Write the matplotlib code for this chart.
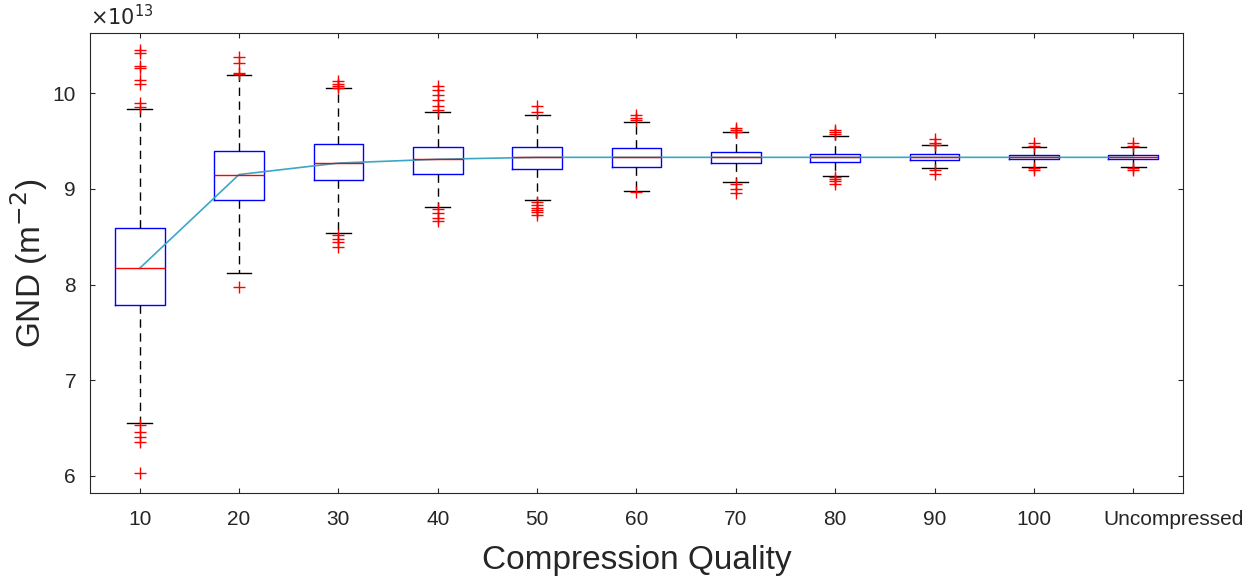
import matplotlib.pyplot as plt
import matplotlib.transforms as mtrans

plt.rcParams["font.family"] = ["Liberation Sans", "DejaVu Sans"]

labels = ["10", "20", "30", "40", "50", "60", "70", "80", "90", "100", "Uncompressed"]
medians = [8.17, 9.15, 9.27, 9.31, 9.33, 9.33, 9.33, 9.33, 9.33, 9.33, 9.33]
q1 = [7.79, 8.88, 9.09, 9.16, 9.21, 9.23, 9.27, 9.28, 9.30, 9.31, 9.31]
q3 = [8.59, 9.40, 9.47, 9.44, 9.44, 9.43, 9.39, 9.37, 9.36, 9.355, 9.355]
whislo = [6.55, 8.12, 8.54, 8.81, 8.88, 8.98, 9.07, 9.13, 9.22, 9.23, 9.23]
whishi = [9.84, 10.19, 10.05, 9.80, 9.77, 9.70, 9.59, 9.55, 9.46, 9.44, 9.44]
fliers = [
    [10.45, 10.42, 10.28, 10.26, 10.14, 10.10, 9.90, 9.86, 6.53, 6.46, 6.41, 6.35, 6.03],
    [10.38, 10.32, 10.21, 10.20, 7.97],
    [10.13, 10.10, 10.08, 10.06, 8.52, 8.48, 8.44, 8.39],
    [10.08, 10.03, 9.98, 9.93, 9.87, 9.82, 8.79, 8.75, 8.70, 8.66],
    [9.87, 9.80, 8.86, 8.83, 8.80, 8.78, 8.76, 8.73],
    [9.77, 9.74, 9.72, 8.97],
    [9.64, 9.62, 9.60, 9.05, 9.00, 8.96],
    [9.62, 9.59, 9.57, 9.12, 9.10, 9.08, 9.05],
    [9.52, 9.48, 9.46, 9.20, 9.16],
    [9.48, 9.45, 9.22, 9.20],
    [9.48, 9.45, 9.22, 9.20],
]

stats = []
for i in range(len(labels)):
    stats.append({"med": medians[i], "q1": q1[i], "q3": q3[i],
                  "whislo": whislo[i], "whishi": whishi[i], "fliers": fliers[i]})

fig = plt.figure(figsize=(12.5, 5.79), dpi=100)
ax = fig.add_axes([0.072, 0.1485, 0.8744, 0.7945])
pos = list(range(1, len(labels) + 1))

ax.bxp(stats, positions=pos, widths=0.5,
       boxprops=dict(color="blue", linewidth=1),
       medianprops=dict(color="red", linewidth=1),
       whiskerprops=dict(color="black", linestyle=(0, (6, 4)), linewidth=1),
       capprops=dict(color="black", linewidth=1),
       flierprops=dict(marker="+", markeredgecolor="red", markersize=9, linestyle="none"),
       capwidths=0.25)

ax.plot(pos, medians, color="#3aa8c4", linewidth=1.2)

ax.set_xlim(0.5, 11.5)
ax.set_ylim(5.82, 10.63)
ax.set_xticks(pos)
ax.set_xticklabels(labels)
ax.set_yticks([6, 7, 8, 9, 10])
ax.tick_params(direction="in", top=True, right=True, labelsize=15, colors="#262626")
ax.tick_params(axis="x", pad=12)
ax.tick_params(axis="y", pad=10)
for s in ax.spines.values():
    s.set_color("#262626")

# last label sits shifted right of its tick in the original
last = ax.get_xticklabels()[-1]
last.set_horizontalalignment("left")
last.set_transform(last.get_transform() + mtrans.ScaledTranslation(-0.30, 0, fig.dpi_scale_trans))

ax.set_xlabel("Compression Quality", fontsize=24, color="#262626", labelpad=12)
ax.set_ylabel("GND (m$^{-2}$)", fontsize=24, color="#262626", labelpad=2)
ax.text(0.0, 1.016, r"$\times10^{13}$", transform=ax.transAxes, fontsize=15, color="#262626")

fig.savefig("out.png")
